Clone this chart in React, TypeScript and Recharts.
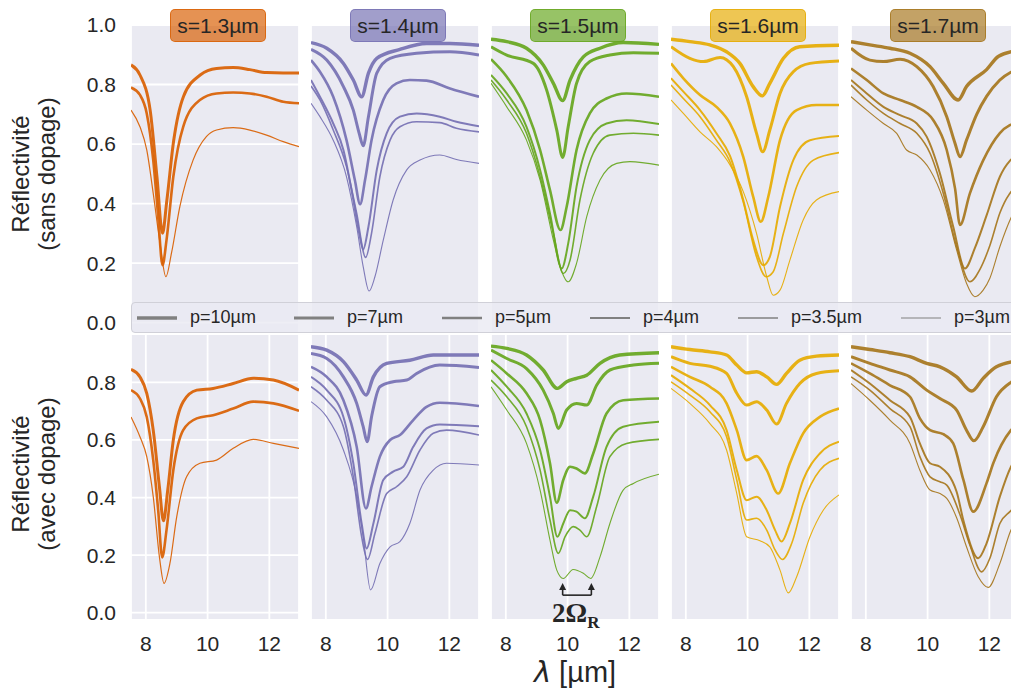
import { LineChart, Line, XAxis, YAxis, CartesianGrid, ReferenceLine, ReferenceDot } from 'recharts';

const COLORS = ['#d95f02', '#7570b3', '#66a61e', '#e6ab02', '#a6761d'];
const SPACINGS = ['s=1.3µm', 's=1.4µm', 's=1.5µm', 's=1.6µm', 's=1.7µm'];
const PITCHES = ['p=10µm', 'p=7µm', 'p=5µm', 'p=4µm', 'p=3.5µm', 'p=3µm'];
const PITCH_WIDTHS = [3.4, 3.0, 2.6, 2.0, 1.6, 1.1];
const FEW_WIDTHS = [3.0, 2.6, 1.2];
const X_TICKS = [8, 10, 12];
const Y_TICKS_TOP = [0, 0.2, 0.4, 0.6, 0.8, 1.0];
const Y_TICKS_BOTTOM = [0, 0.2, 0.4, 0.6, 0.8];
const RABI_X = [9.84, 10.77];

// ---- top row: sans dopage ----
const R1_S13_A = [[7.52, 0.866], [7.81, 0.832], [8.14, 0.714], [8.36, 0.49], [8.54, 0.30], [8.68, 0.41], [8.9, 0.61], [9.22, 0.76], [9.76, 0.832], [10.29, 0.854], [10.83, 0.857], [11.37, 0.85], [11.91, 0.84], [12.45, 0.839], [12.96, 0.839]];
const R1_S13_B = [[7.52, 0.79], [7.81, 0.765], [8.03, 0.703], [8.24, 0.546], [8.4, 0.356], [8.54, 0.193], [8.67, 0.277], [8.89, 0.49], [9.21, 0.658], [9.75, 0.748], [10.29, 0.77], [10.83, 0.773], [11.37, 0.77], [11.91, 0.759], [12.45, 0.742], [12.96, 0.737]];
const R1_S13_C = [[7.52, 0.714], [7.81, 0.658], [8.03, 0.58], [8.24, 0.434], [8.46, 0.266], [8.65, 0.154], [8.83, 0.233], [9.1, 0.389], [9.53, 0.546], [9.96, 0.625], [10.29, 0.647], [10.83, 0.655], [11.37, 0.647], [11.91, 0.63], [12.45, 0.608], [12.96, 0.591]];

const R1_S14_P10 = [[7.52, 0.941], [8.03, 0.922], [8.57, 0.871], [8.89, 0.815], [9.16, 0.759], [9.38, 0.838], [9.65, 0.888], [10.4, 0.918], [11.26, 0.938], [12.02, 0.938], [12.96, 0.932]];
const R1_S14_P7 = [[7.52, 0.918], [8.03, 0.882], [8.57, 0.793], [8.89, 0.714], [9.08, 0.636], [9.21, 0.594], [9.38, 0.692], [9.65, 0.838], [10.08, 0.888], [10.94, 0.905], [12.02, 0.91], [12.96, 0.899]];
const R1_S14_P5 = [[7.52, 0.882], [7.81, 0.843], [8.24, 0.759], [8.67, 0.613], [8.94, 0.479], [9.11, 0.398], [9.27, 0.479], [9.48, 0.613], [9.86, 0.748], [10.29, 0.804], [10.72, 0.815], [11.26, 0.813], [12.02, 0.787], [12.96, 0.759]];
const R1_S14_P4 = [[7.52, 0.815], [7.81, 0.759], [8.24, 0.669], [8.57, 0.58], [8.89, 0.412], [9.08, 0.30], [9.21, 0.246], [9.38, 0.322], [9.65, 0.513], [9.97, 0.636], [10.4, 0.692], [10.94, 0.703], [11.69, 0.692], [12.23, 0.675], [12.96, 0.66]];
const R1_S14_P35 = [[7.52, 0.795], [7.81, 0.748], [8.24, 0.647], [8.67, 0.524], [9.0, 0.367], [9.29, 0.219], [9.48, 0.30], [9.75, 0.49], [10.08, 0.613], [10.4, 0.658], [10.94, 0.675], [11.69, 0.672], [12.23, 0.653], [12.96, 0.641]];
const R1_S14_P3 = [[7.52, 0.737], [7.81, 0.692], [8.24, 0.613], [8.67, 0.49], [9.0, 0.322], [9.21, 0.188], [9.4, 0.106], [9.59, 0.154], [9.86, 0.277], [10.18, 0.412], [10.62, 0.513], [11.05, 0.546], [11.69, 0.563], [12.23, 0.548], [12.96, 0.535]];

const R1_S15_P10 = [[7.52, 0.952], [8.03, 0.944], [8.67, 0.922], [9.21, 0.866], [9.54, 0.804], [9.84, 0.746], [10.08, 0.815], [10.51, 0.893], [11.05, 0.922], [11.8, 0.941], [12.96, 0.935]];
const R1_S15_P7 = [[7.52, 0.927], [8.03, 0.899], [8.89, 0.871], [9.32, 0.782], [9.65, 0.647], [9.84, 0.555], [10.02, 0.658], [10.29, 0.804], [10.72, 0.877], [11.37, 0.899], [12.13, 0.907], [12.96, 0.905]];
const R1_S15_P5 = [[7.52, 0.885], [8.03, 0.826], [8.67, 0.714], [9.11, 0.58], [9.43, 0.445], [9.77, 0.311], [9.97, 0.389], [10.29, 0.58], [10.72, 0.703], [11.26, 0.753], [11.91, 0.77], [12.96, 0.759]];
const R1_S15_P4 = [[7.52, 0.832], [8.03, 0.77], [8.67, 0.658], [9.11, 0.513], [9.43, 0.367], [9.81, 0.182], [10.02, 0.266], [10.29, 0.457], [10.72, 0.613], [11.26, 0.669], [11.91, 0.68], [12.96, 0.667]];
const R1_S15_P35 = [[7.52, 0.815], [8.03, 0.748], [8.67, 0.636], [9.11, 0.49], [9.54, 0.30], [9.86, 0.165], [10.08, 0.21], [10.4, 0.412], [10.83, 0.569], [11.37, 0.63], [12.13, 0.636], [12.96, 0.63]];
const R1_S15_P3 = [[7.52, 0.804], [8.03, 0.725], [8.67, 0.613], [9.11, 0.479], [9.54, 0.277], [9.75, 0.19], [10.02, 0.137], [10.29, 0.199], [10.62, 0.356], [11.05, 0.479], [11.59, 0.535], [12.02, 0.541], [12.96, 0.529]];

const R1_S16_P10 = [[7.52, 0.952], [8.13, 0.944], [8.78, 0.933], [9.32, 0.91], [9.75, 0.871], [10.18, 0.793], [10.48, 0.762], [10.72, 0.804], [11.16, 0.888], [11.69, 0.927], [12.96, 0.932]];
const R1_S16_P7 = [[7.52, 0.927], [8.13, 0.888], [8.57, 0.877], [9.11, 0.891], [9.54, 0.86], [9.97, 0.759], [10.29, 0.636], [10.49, 0.574], [10.72, 0.647], [11.05, 0.77], [11.48, 0.843], [12.02, 0.871], [12.96, 0.879]];
const R1_S16_P5 = [[7.52, 0.871], [7.92, 0.821], [8.46, 0.765], [8.99, 0.725], [9.43, 0.669], [9.86, 0.557], [10.18, 0.423], [10.43, 0.339], [10.67, 0.423], [11.05, 0.613], [11.59, 0.714], [12.23, 0.731], [12.96, 0.731]];
const R1_S16_P4 = [[7.52, 0.821], [7.92, 0.776], [8.46, 0.714], [8.99, 0.636], [9.43, 0.56], [9.86, 0.412], [10.18, 0.277], [10.51, 0.193], [10.72, 0.221], [11.05, 0.389], [11.48, 0.546], [12.02, 0.613], [12.96, 0.627]];
const R1_S16_P35 = [[7.52, 0.798], [7.92, 0.753], [8.46, 0.692], [8.99, 0.613], [9.43, 0.54], [9.86, 0.405], [10.29, 0.221], [10.6, 0.154], [10.83, 0.171], [11.16, 0.30], [11.59, 0.457], [12.13, 0.546], [12.96, 0.571]];
const R1_S16_P3 = [[7.52, 0.748], [7.92, 0.703], [8.46, 0.641], [8.99, 0.591], [9.43, 0.53], [9.86, 0.44], [10.29, 0.30], [10.62, 0.154], [10.83, 0.092], [11.05, 0.109], [11.37, 0.21], [11.8, 0.345], [12.23, 0.412], [12.96, 0.44]];

const R1_S17_P10 = [[7.52, 0.944], [8.13, 0.933], [8.78, 0.922], [9.43, 0.905], [10.08, 0.86], [10.51, 0.804], [10.99, 0.748], [11.26, 0.793], [11.91, 0.85], [12.3, 0.895], [12.96, 0.915]];
const R1_S17_P7 = [[7.52, 0.922], [8.13, 0.882], [8.57, 0.877], [9.11, 0.885], [9.65, 0.86], [10.18, 0.793], [10.62, 0.692], [10.89, 0.602], [11.05, 0.557], [11.26, 0.613], [11.59, 0.70], [11.91, 0.76], [12.34, 0.815], [12.96, 0.855]];
const R1_S17_P5 = [[7.52, 0.854], [8.03, 0.815], [8.57, 0.77], [9.11, 0.748], [9.65, 0.725], [10.18, 0.681], [10.62, 0.58], [10.89, 0.45], [11.05, 0.328], [11.37, 0.434], [11.8, 0.545], [12.34, 0.637], [12.96, 0.675]];
const R1_S17_P4 = [[7.52, 0.815], [8.03, 0.77], [8.57, 0.725], [9.11, 0.697], [9.65, 0.669], [9.97, 0.625], [10.4, 0.501], [10.83, 0.322], [11.21, 0.182], [11.53, 0.25], [11.91, 0.36], [12.34, 0.49], [12.96, 0.57]];
const R1_S17_P35 = [[7.52, 0.798], [8.03, 0.748], [8.57, 0.703], [9.11, 0.669], [9.65, 0.636], [10.08, 0.569], [10.51, 0.434], [10.94, 0.255], [11.37, 0.137], [11.7, 0.18], [12.02, 0.26], [12.34, 0.368], [12.96, 0.47]];
const R1_S17_P3 = [[7.52, 0.759], [8.03, 0.714], [8.57, 0.669], [9.0, 0.636], [9.32, 0.58], [9.65, 0.563], [10.08, 0.513], [10.51, 0.412], [10.94, 0.244], [11.26, 0.132], [11.53, 0.087], [11.8, 0.109], [12.02, 0.15], [12.34, 0.255], [12.72, 0.356], [12.96, 0.40]];

// ---- bottom row: avec dopage ----
const R2_S13_A = [[7.52, 0.845], [7.81, 0.819], [8.03, 0.762], [8.24, 0.634], [8.44, 0.4375], [8.57, 0.319], [8.71, 0.426], [8.89, 0.60], [9.21, 0.733], [9.65, 0.773], [10.18, 0.779], [10.83, 0.796], [11.48, 0.814], [12.13, 0.808], [12.96, 0.773]];
const R2_S13_B = [[7.52, 0.773], [7.81, 0.744], [8.03, 0.68], [8.24, 0.53], [8.4, 0.356], [8.53, 0.192], [8.67, 0.287], [8.89, 0.495], [9.21, 0.634], [9.65, 0.675], [10.18, 0.686], [10.83, 0.709], [11.48, 0.733], [12.13, 0.727], [12.96, 0.701]];
const R2_S13_C = [[7.52, 0.68], [7.81, 0.611], [8.03, 0.542], [8.24, 0.403], [8.44, 0.194], [8.59, 0.102], [8.78, 0.171], [9.0, 0.333], [9.32, 0.472], [9.75, 0.519], [10.29, 0.53], [10.83, 0.571], [11.48, 0.602], [12.13, 0.588], [12.96, 0.571]];

const R2_S14_P10 = [[7.52, 0.924], [8.03, 0.912], [8.57, 0.872], [9.0, 0.808], [9.3, 0.756], [9.54, 0.819], [9.97, 0.866], [10.72, 0.877], [11.48, 0.895], [12.96, 0.895]];
const R2_S14_P7 = [[7.52, 0.90], [8.03, 0.883], [8.57, 0.819], [9.0, 0.727], [9.21, 0.646], [9.34, 0.594], [9.48, 0.68], [9.75, 0.785], [10.18, 0.802], [10.62, 0.808], [10.94, 0.831], [11.69, 0.86], [12.96, 0.852]];
const R2_S14_P5 = [[7.52, 0.854], [8.03, 0.819], [8.57, 0.738], [9.0, 0.576], [9.3, 0.362], [9.48, 0.4375], [9.75, 0.542], [10.08, 0.60], [10.4, 0.617], [10.83, 0.669], [11.26, 0.715], [11.69, 0.729], [12.96, 0.718]];
const R2_S14_P4 = [[7.52, 0.819], [8.03, 0.773], [8.57, 0.68], [8.89, 0.519], [9.16, 0.31], [9.32, 0.223], [9.54, 0.31], [9.86, 0.461], [10.18, 0.49], [10.51, 0.507], [10.83, 0.576], [11.26, 0.64], [11.69, 0.654], [12.96, 0.648]];
const R2_S14_P35 = [[7.52, 0.785], [8.03, 0.738], [8.57, 0.646], [8.89, 0.472], [9.16, 0.264], [9.35, 0.185], [9.59, 0.275], [9.97, 0.414], [10.29, 0.4375], [10.62, 0.472], [11.05, 0.565], [11.48, 0.623], [11.91, 0.634], [12.96, 0.617]];
const R2_S14_P3 = [[7.52, 0.733], [8.03, 0.68], [8.57, 0.565], [9.0, 0.403], [9.21, 0.264], [9.45, 0.079], [9.75, 0.171], [10.08, 0.229], [10.4, 0.247], [10.72, 0.31], [11.05, 0.426], [11.48, 0.495], [11.91, 0.519], [12.96, 0.513]];

const R2_S15_P10 = [[7.52, 0.926], [8.03, 0.918], [8.67, 0.895], [9.21, 0.843], [9.67, 0.779], [9.97, 0.802], [10.29, 0.814], [10.62, 0.825], [11.05, 0.866], [11.69, 0.895], [12.96, 0.903]];
const R2_S15_P7 = [[7.52, 0.912], [8.03, 0.883], [8.67, 0.848], [9.21, 0.773], [9.54, 0.692], [9.7, 0.64], [9.97, 0.704], [10.29, 0.727], [10.62, 0.721], [10.94, 0.79], [11.37, 0.843], [12.13, 0.86], [12.96, 0.866]];
const R2_S15_P5 = [[7.52, 0.877], [8.03, 0.831], [8.67, 0.762], [9.11, 0.669], [9.43, 0.519], [9.65, 0.382], [9.86, 0.461], [10.08, 0.507], [10.29, 0.501], [10.56, 0.484], [10.83, 0.553], [11.26, 0.692], [11.8, 0.738], [12.96, 0.744]];
const R2_S15_P4 = [[7.52, 0.843], [8.03, 0.785], [8.67, 0.692], [9.11, 0.565], [9.43, 0.403], [9.67, 0.264], [9.86, 0.31], [10.08, 0.356], [10.29, 0.351], [10.56, 0.328], [10.83, 0.403], [11.26, 0.576], [11.8, 0.646], [12.96, 0.663]];
const R2_S15_P35 = [[7.52, 0.808], [8.03, 0.75], [8.67, 0.646], [9.11, 0.495], [9.43, 0.322], [9.7, 0.206], [9.92, 0.264], [10.18, 0.299], [10.4, 0.287], [10.62, 0.264], [10.94, 0.368], [11.37, 0.542], [11.91, 0.588], [12.96, 0.602]];
const R2_S15_P3 = [[7.52, 0.785], [8.03, 0.704], [8.67, 0.588], [9.11, 0.426], [9.43, 0.252], [9.65, 0.148], [9.86, 0.119], [10.18, 0.15], [10.51, 0.137], [10.75, 0.119], [11.05, 0.194], [11.37, 0.31], [11.8, 0.426], [12.13, 0.449], [12.96, 0.481]];

const R2_S16_P10 = [[7.52, 0.924], [8.13, 0.914], [8.78, 0.906], [9.32, 0.895], [9.65, 0.86], [9.97, 0.833], [10.29, 0.837], [10.62, 0.819], [10.94, 0.793], [11.26, 0.831], [11.69, 0.877], [12.23, 0.891], [12.96, 0.895]];
const R2_S16_P7 = [[7.52, 0.889], [8.13, 0.866], [8.78, 0.856], [9.32, 0.831], [9.65, 0.762], [9.97, 0.721], [10.29, 0.733], [10.62, 0.704], [10.94, 0.655], [11.26, 0.727], [11.69, 0.796], [12.23, 0.831], [12.96, 0.84]];
const R2_S16_P5 = [[7.52, 0.854], [8.13, 0.819], [8.78, 0.785], [9.32, 0.727], [9.65, 0.634], [9.97, 0.53], [10.29, 0.544], [10.62, 0.495], [10.99, 0.414], [11.37, 0.519], [11.8, 0.623], [12.34, 0.68], [12.96, 0.709]];
const R2_S16_P4 = [[7.52, 0.825], [8.13, 0.779], [8.78, 0.721], [9.32, 0.634], [9.65, 0.495], [9.97, 0.391], [10.29, 0.403], [10.62, 0.356], [10.89, 0.287], [11.1, 0.247], [11.37, 0.31], [11.8, 0.461], [12.34, 0.553], [12.96, 0.594]];
const R2_S16_P35 = [[7.52, 0.802], [8.13, 0.756], [8.78, 0.698], [9.32, 0.611], [9.65, 0.461], [9.97, 0.322], [10.29, 0.328], [10.62, 0.287], [10.89, 0.218], [11.13, 0.185], [11.43, 0.241], [11.8, 0.38], [12.34, 0.495], [12.96, 0.536]];
const R2_S16_P3 = [[7.52, 0.779], [8.13, 0.727], [8.78, 0.657], [9.32, 0.565], [9.65, 0.414], [9.97, 0.264], [10.4, 0.25], [10.72, 0.229], [11.05, 0.148], [11.32, 0.069], [11.59, 0.125], [12.02, 0.264], [12.45, 0.356], [12.96, 0.409]];

const R2_S17_P10 = [[7.52, 0.924], [8.13, 0.914], [8.78, 0.903], [9.43, 0.889], [9.97, 0.866], [10.4, 0.854], [10.94, 0.819], [11.43, 0.77], [11.8, 0.814], [12.23, 0.854], [12.96, 0.875]];
const R2_S17_P7 = [[7.52, 0.889], [8.13, 0.866], [8.78, 0.843], [9.43, 0.819], [9.97, 0.773], [10.4, 0.744], [10.94, 0.704], [11.26, 0.634], [11.5, 0.597], [11.8, 0.646], [12.23, 0.75], [12.7, 0.80], [12.96, 0.815]];
const R2_S17_P5 = [[7.52, 0.866], [8.13, 0.831], [8.78, 0.79], [9.43, 0.75], [9.75, 0.675], [10.08, 0.634], [10.51, 0.62], [10.83, 0.588], [11.16, 0.461], [11.48, 0.351], [11.91, 0.45], [12.13, 0.52], [12.7, 0.634], [12.96, 0.66]];
const R2_S17_P4 = [[7.52, 0.843], [8.13, 0.796], [8.78, 0.738], [9.43, 0.68], [9.75, 0.588], [10.08, 0.519], [10.4, 0.507], [10.94, 0.42], [11.16, 0.32], [11.64, 0.189], [11.91, 0.241], [12.34, 0.403], [12.7, 0.507], [12.96, 0.55]];
const R2_S17_P35 = [[7.52, 0.819], [8.13, 0.773], [8.78, 0.709], [9.43, 0.646], [9.75, 0.542], [10.08, 0.472], [10.4, 0.455], [10.62, 0.443], [11.05, 0.34], [11.37, 0.235], [11.75, 0.142], [12.02, 0.19], [12.34, 0.31], [12.7, 0.355], [12.96, 0.39]];
const R2_S17_P3 = [[7.52, 0.796], [8.13, 0.738], [8.78, 0.669], [9.43, 0.588], [9.75, 0.495], [10.08, 0.426], [10.4, 0.414], [10.62, 0.397], [10.94, 0.33], [11.26, 0.229], [11.64, 0.125], [11.96, 0.088], [12.34, 0.171], [12.7, 0.287], [12.96, 0.33]];

const TOP_ROW = [
  [R1_S13_A, R1_S13_B, R1_S13_C],
  [R1_S14_P10, R1_S14_P7, R1_S14_P5, R1_S14_P4, R1_S14_P35, R1_S14_P3],
  [R1_S15_P10, R1_S15_P7, R1_S15_P5, R1_S15_P4, R1_S15_P35, R1_S15_P3],
  [R1_S16_P10, R1_S16_P7, R1_S16_P5, R1_S16_P4, R1_S16_P35, R1_S16_P3],
  [R1_S17_P10, R1_S17_P7, R1_S17_P5, R1_S17_P4, R1_S17_P35, R1_S17_P3],
];
const BOTTOM_ROW = [
  [R2_S13_A, R2_S13_B, R2_S13_C],
  [R2_S14_P10, R2_S14_P7, R2_S14_P5, R2_S14_P4, R2_S14_P35, R2_S14_P3],
  [R2_S15_P10, R2_S15_P7, R2_S15_P5, R2_S15_P4, R2_S15_P35, R2_S15_P3],
  [R2_S16_P10, R2_S16_P7, R2_S16_P5, R2_S16_P4, R2_S16_P35, R2_S16_P3],
  [R2_S17_P10, R2_S17_P7, R2_S17_P5, R2_S17_P4, R2_S17_P35, R2_S17_P3],
];

const FONT = '"Liberation Sans", Arial, sans-serif';
const INK = '#262626';
const PANEL_LEFT = 131;
const PANEL_STEP = 180;
const PANEL_W = 168;
const LEGEND_ITEM_W = [157, 148, 148, 148, 163, 120];

const toPts = (a: number[][]) => a.map(([x, y]) => ({ x, y }));

function rgba(hex: string, a: number) {
  const n = parseInt(hex.slice(1), 16);
  return `rgba(${(n >> 16) & 255},${(n >> 8) & 255},${n & 255},${a})`;
}

const arrowUp = (props: any) => {
  const { cx, cy } = props;
  return <path d={`M${cx},${cy} L${cx - 3.5},${cy + 7} L${cx + 3.5},${cy + 7} Z`} fill={INK} />;
};

function Panel({ series, col, bottom }: { series: number[][][]; col: number; bottom: boolean }) {
  const first = col === 0;
  const yW = first ? 100 : 0;
  const xH = bottom ? 45 : 0;
  const padTop = bottom ? 0 : 15;
  const plotH = bottom ? 286 : 308;
  const top = (bottom ? 334 : 25) - padTop;
  const widths = series.length === 3 ? FEW_WIDTHS : PITCH_WIDTHS;
  const color = COLORS[col];
  return (
    <div style={{ position: 'absolute', left: PANEL_LEFT + col * PANEL_STEP - yW, top }}>
      <LineChart width={PANEL_W + yW} height={plotH + xH + padTop} margin={{ top: padTop, right: 0, bottom: 0, left: 0 }}>
        <CartesianGrid stroke="#ffffff" strokeWidth={1.8} fill="#eaeaf2" fillOpacity={1} />
        <XAxis
          type="number"
          dataKey="x"
          domain={[7.52, 12.96]}
          ticks={X_TICKS}
          interval={0}
          allowDataOverflow
          height={xH}
          axisLine={false}
          tickLine={false}
          tickSize={0}
          tickMargin={16}
          tick={bottom ? { fontSize: 21, fill: INK, fontFamily: FONT } : false}
        />
        <YAxis
          type="number"
          domain={bottom ? [-0.0253, 0.968] : [-0.035, 1.0]}
          ticks={bottom ? Y_TICKS_BOTTOM : Y_TICKS_TOP}
          interval={0}
          allowDataOverflow
          width={yW}
          axisLine={false}
          tickLine={false}
          tickSize={0}
          tickMargin={15}
          tickFormatter={(v: number) => v.toFixed(1)}
          tick={first ? { fontSize: 21, fill: INK, fontFamily: FONT } : false}
        />
        {series.map((s, i) => (
          <Line
            key={i}
            data={toPts(s)}
            dataKey="y"
            type="monotone"
            dot={false}
            stroke={color}
            strokeOpacity={0.92}
            strokeWidth={widths[i]}
            isAnimationActive={false}
          />
        ))}
        {bottom && col === 2 && (
          <>
            <ReferenceLine segment={[{ x: RABI_X[0], y: 0.061 }, { x: RABI_X[1], y: 0.061 }]} stroke={INK} strokeWidth={1.6} />
            <ReferenceLine segment={[{ x: RABI_X[0], y: 0.061 }, { x: RABI_X[0], y: 0.09 }]} stroke={INK} strokeWidth={1.6} />
            <ReferenceLine segment={[{ x: RABI_X[1], y: 0.061 }, { x: RABI_X[1], y: 0.09 }]} stroke={INK} strokeWidth={1.6} />
            <ReferenceDot x={RABI_X[0]} y={0.103} shape={arrowUp} />
            <ReferenceDot x={RABI_X[1]} y={0.103} shape={arrowUp} />
          </>
        )}
      </LineChart>
    </div>
  );
}

function YLabel({ lines, cy }: { lines: string[]; cy: number }) {
  return (
    <div
      style={{
        position: 'absolute',
        left: 34 - 130,
        top: cy - 26,
        width: 260,
        height: 52,
        lineHeight: '26px',
        fontSize: 24,
        fontFamily: FONT,
        color: INK,
        textAlign: 'center',
        transform: 'rotate(-90deg)',
        whiteSpace: 'nowrap',
      }}
    >
      {lines.map((l) => (
        <div key={l}>{l}</div>
      ))}
    </div>
  );
}

export default function App() {
  return (
    <div style={{ position: 'absolute', left: 0, top: 0, width: 1011, height: 689, overflow: 'hidden', background: '#fff' }}>
      {TOP_ROW.map((s, i) => (
        <Panel key={'t' + i} series={s} col={i} bottom={false} />
      ))}
      {BOTTOM_ROW.map((s, i) => (
        <Panel key={'b' + i} series={s} col={i} bottom />
      ))}

      {/* spacing titles */}
      {SPACINGS.map((t, i) => (
        <div
          key={t}
          style={{
            position: 'absolute',
            left: PANEL_LEFT + i * PANEL_STEP + PANEL_W / 2 + 3 - 48,
            top: 9,
            width: 96,
            height: 33,
            boxSizing: 'border-box',
            background: rgba(COLORS[i], 0.68),
            border: `1px solid ${rgba(COLORS[i], 0.8)}`,
            borderRadius: 5,
            display: 'flex',
            alignItems: 'center',
            justifyContent: 'center',
            fontSize: 21,
            fontFamily: FONT,
            color: INK,
          }}
        >
          {t}
        </div>
      ))}

      {/* pitch legend */}
      <div
        style={{
          position: 'absolute',
          left: 131,
          top: 302,
          width: 900,
          height: 31,
          boxSizing: 'border-box',
          background: 'rgba(234,234,242,0.8)',
          border: '1px solid #d0d0d8',
          borderRadius: 4,
          display: 'flex',
          alignItems: 'center',
          paddingLeft: 5,
          fontFamily: FONT,
          fontSize: 18,
          color: INK,
        }}
      >
        {PITCHES.map((p, i) => (
          <div key={p} style={{ display: 'flex', alignItems: 'center', width: LEGEND_ITEM_W[i], flexShrink: 0 }}>
            <svg width={40} height={10} style={{ marginRight: 13 }}>
              <line x1={0} y1={5} x2={40} y2={5} stroke="#808080" strokeWidth={PITCH_WIDTHS[i]} />
            </svg>
            <span>{p}</span>
          </div>
        ))}
      </div>

      <YLabel lines={['Réflectivité', '(sans dopage)']} cy={174} />
      <YLabel lines={['Réflectivité', '(avec dopage)']} cy={474} />

      {/* 2ΩR annotation */}
      <div
        style={{
          position: 'absolute',
          left: 552,
          top: 598,
          fontFamily: '"Liberation Serif", "DejaVu Serif", serif',
          fontWeight: 'bold',
          fontSize: 27,
          color: INK,
          whiteSpace: 'nowrap',
        }}
      >
        2Ω<span style={{ fontSize: 17, position: 'relative', top: 6 }}>R</span>
      </div>

      {/* x axis label */}
      <div
        style={{
          position: 'absolute',
          left: 475,
          top: 656,
          width: 200,
          textAlign: 'center',
          fontSize: 29,
          lineHeight: '32px',
          fontFamily: FONT,
          color: INK,
        }}
      >
        <span style={{ fontStyle: 'italic', fontFamily: '"DejaVu Sans", sans-serif' }}>λ</span> [µm]
      </div>
    </div>
  );
}
